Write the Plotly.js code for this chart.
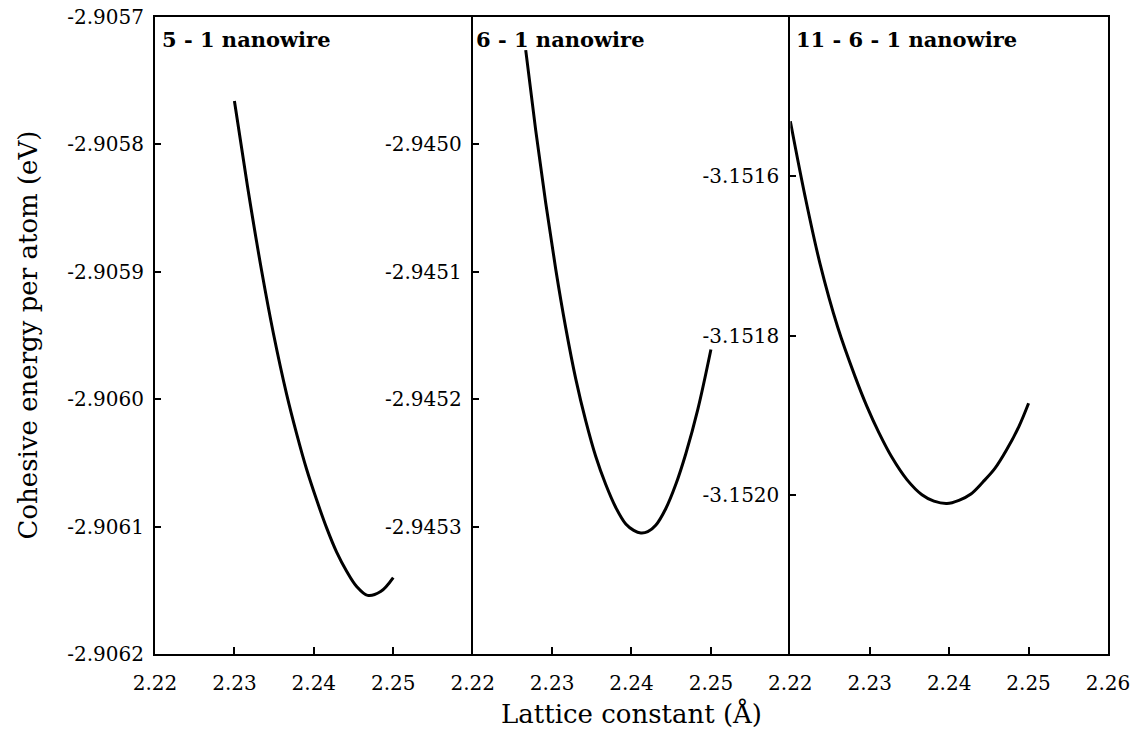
<!DOCTYPE html>
<html><head><meta charset="utf-8">
<script src="https://cdn.plot.ly/plotly-3.0.1.min.js"></script>
<style>html,body{margin:0;padding:0;background:#fff}#chart{width:1142px;height:734px}</style>
</head><body><div id="chart"></div>
<script>
// Data
const wire51X = [2.2300, 2.23165, 2.23342, 2.23493, 2.23657, 2.23783, 2.23909, 2.24035, 2.24161, 2.24287, 2.24413, 2.24539, 2.24677, 2.24841, 2.2500];
const wire51E = [-2.905766, -2.905833, -2.905899, -2.905949, -2.905996, -2.906027, -2.906055, -2.906079, -2.906101, -2.906120, -2.906135, -2.906147, -2.906154, -2.906151, -2.906140];

const wire61X = [2.22668, 2.22794, 2.22920, 2.23046, 2.23172, 2.23298, 2.23424, 2.23550, 2.23676, 2.23802, 2.23928, 2.24028, 2.24117, 2.24205, 2.24305, 2.24431, 2.24557, 2.24683, 2.24835, 2.2500];
const wire61E = [-2.944926, -2.944989, -2.945046, -2.945098, -2.945144, -2.945184, -2.945217, -2.945245, -2.945267, -2.945285, -2.945298, -2.945303, -2.945305, -2.945304, -2.945299, -2.945286, -2.945267, -2.945243, -2.945208, -2.945161];

const wire1161X = [2.2200, 2.22183, 2.22372, 2.22598, 2.22813, 2.22964, 2.23115, 2.23279, 2.23468, 2.23657, 2.23808, 2.23972, 2.24123, 2.24274, 2.24425, 2.24576, 2.24727, 2.24879, 2.2500];
const wire1161E = [-3.151531, -3.151624, -3.151709, -3.151790, -3.151851, -3.151889, -3.151922, -3.151953, -3.151981, -3.152000, -3.152008, -3.152011, -3.152007, -3.151999, -3.151984, -3.151967, -3.151943, -3.151914, -3.151885];

const panelLabels = ['5 - 1 nanowire', '6 - 1 nanowire', '11 - 6 - 1 nanowire'];
const xTicksA = [2.22, 2.23, 2.24, 2.25];
const xTicksB = [2.22, 2.23, 2.24, 2.25, 2.26];
const yTicks1 = [-2.9062, -2.9061, -2.9060, -2.9059, -2.9058, -2.9057];
const yTicks2 = [-2.9453, -2.9452, -2.9451, -2.9450];
const yTicks3 = [-3.1520, -3.1518, -3.1516];
const yTicks3Right = [-3.15156, -3.15188];
const xTitle = 'Lattice constant (Å)';
const yTitle = 'Cohesive energy per atom (eV)';

const FONT = 'DejaVu Serif';
const lineStyle = {color: '#000', width: 3, shape: 'spline', smoothing: 1};

const traces = [
  {x: wire51X, y: wire51E, xaxis: 'x', yaxis: 'y', mode: 'lines', line: lineStyle, hoverinfo: 'skip'},
  {x: wire61X, y: wire61E, xaxis: 'x2', yaxis: 'y2', mode: 'lines', line: lineStyle, hoverinfo: 'skip'},
  {x: wire1161X, y: wire1161E, xaxis: 'x3', yaxis: 'y3', mode: 'lines', line: lineStyle, hoverinfo: 'skip'}
];

function xAx(domain, anchor, tv) {
  return {domain: domain, anchor: anchor, range: [2.22, 2.26], tickvals: tv,
    ticktext: tv.map(v => v.toFixed(2)), ticks: 'inside', ticklen: 7, tickwidth: 2, tickcolor: '#000',
    showline: true, linewidth: 2, linecolor: '#000', mirror: true, showgrid: false, zeroline: false,
    tickfont: {family: FONT, size: 20, color: '#000'}, ticklabelstandoff: 10};
}
function yAx(anchor, range, tv, mirror) {
  return {anchor: anchor, range: range, tickvals: tv, ticktext: tv.map(v => v.toFixed(4)),
    ticks: 'inside', ticklen: 6, tickwidth: 2, tickcolor: '#000',
    showline: true, linewidth: 2, linecolor: '#000', mirror: mirror, showgrid: false, zeroline: false,
    tickfont: {family: FONT, size: 20, color: '#000'}, ticklabelstandoff: 5};
}
function tickOnly(over, anchor, range, tv) {
  return {overlaying: over, anchor: anchor, side: 'right', range: range, tickvals: tv,
    ticks: 'inside', ticklen: 6, tickwidth: 2, tickcolor: '#000', showticklabels: false,
    showline: false, showgrid: false, zeroline: false};
}

const layout = {
  width: 1142, height: 734,
  margin: {l: 155, r: 34, t: 17, b: 80},
  paper_bgcolor: '#fff', plot_bgcolor: '#fff',
  showlegend: false,
  font: {family: FONT, color: '#000'},
  xaxis: xAx([0, 1/3], 'y', xTicksA),
  xaxis2: xAx([1/3, 2/3], 'y2', xTicksA),
  xaxis3: xAx([2/3, 1], 'y3', xTicksB),
  yaxis: yAx('x', [-2.9062, -2.9057], yTicks1, false),
  yaxis2: yAx('x2', [-2.9454, -2.9449], yTicks2, false),
  yaxis3: yAx('x3', [-3.1522, -3.1514], yTicks3, true),
  yaxis4: tickOnly('y3', 'x3', [-3.1522, -3.1514], yTicks3Right),
  yaxis5: tickOnly('y', 'x', [-2.9062, -2.9057], yTicks1),
  annotations: [
    {text: '<b>' + panelLabels[0] + '</b>', xref: 'x domain', yref: 'y domain', x: 0, y: 1, xanchor: 'left', yanchor: 'top',
      xshift: 5, yshift: -8, showarrow: false, font: {family: FONT, size: 21, color: '#000'}},
    {text: '<b>' + panelLabels[1] + '</b>', xref: 'x2 domain', yref: 'y2 domain', x: 0, y: 1, xanchor: 'left', yanchor: 'top',
      xshift: 1, yshift: -8, showarrow: false, font: {family: FONT, size: 21, color: '#000'}},
    {text: '<b>' + panelLabels[2] + '</b>', xref: 'x3 domain', yref: 'y3 domain', x: 0, y: 1, xanchor: 'left', yanchor: 'top',
      xshift: 4, yshift: -8, showarrow: false, font: {family: FONT, size: 21, color: '#000'}},
    {text: xTitle, xref: 'paper', yref: 'paper', x: 0.5, y: 0, xanchor: 'center', yanchor: 'top',
      yshift: -42, showarrow: false, font: {family: FONT, size: 26, color: '#000'}},
    {text: yTitle, xref: 'paper', yref: 'paper', x: 0, y: 0.5, xanchor: 'center', yanchor: 'middle',
      xshift: -128, textangle: -90, showarrow: false, font: {family: FONT, size: 26, color: '#000'}}
  ]
};

Plotly.newPlot('chart', traces, layout, {staticPlot: true, displayModeBar: false});
</script>
</body></html>
